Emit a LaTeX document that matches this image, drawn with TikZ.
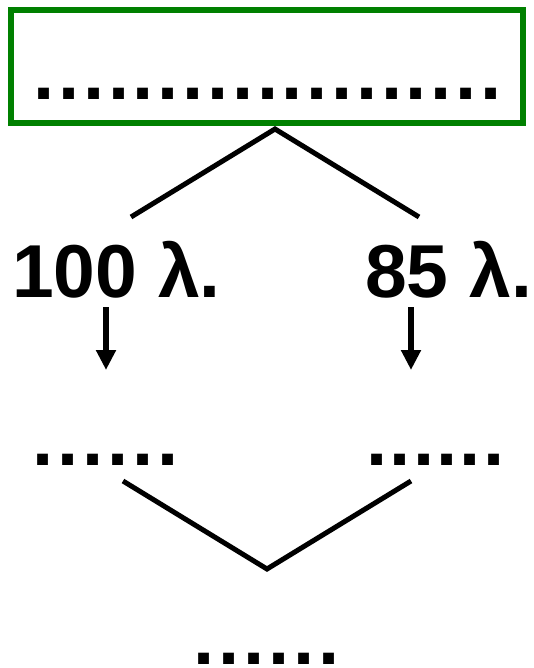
\documentclass[tikz,border=0pt]{standalone}
\usepackage{fontspec}
\setmainfont{Liberation Sans}
\usetikzlibrary{arrows.meta}
\definecolor{boxgreen}{RGB}{0,128,0}
\newcommand\dotrow[2]{\foreach \i in {1,...,#1}{\makebox[#2][c]{.}}}
\tikzset{
  bigtext/.style={inner sep=0pt, font=\fontsize{75}{90}\selectfont\bfseries},
  dotsrow/.style={inner sep=0pt, anchor=base, font=\fontsize{76}{90}\selectfont\bfseries},
  greenbox/.style={draw=boxgreen, line width=6pt, minimum width=512pt, minimum height=113pt, inner sep=0pt},
  link/.style={line width=5pt, line join=miter},
  arr/.style={line width=6pt, -{Triangle[length=20pt,width=19pt]}}
}
\begin{document}
\begin{tikzpicture}[x=1pt,y=-1pt]
\useasboundingbox (0,0) rectangle (533,668);
\node[greenbox] (box) at (267,66.5) {};
\node[dotsrow] (d0) at (267.5,100) {\dotrow{19}{24.8pt}};
\coordinate (apex1) at (275,129);
\coordinate (l1) at (131,217);
\coordinate (r1) at (419,217);
\draw[link] (l1) -- (apex1) -- (r1);
\node[bigtext, anchor=base west] (t1) at (12,297) {100 λ.};
\node[bigtext, anchor=base west] (t2) at (365,297) {85 λ.};
\coordinate (a1s) at (106,307);
\coordinate (a1e) at (106,370);
\coordinate (a2s) at (411,307);
\coordinate (a2e) at (411,370);
\draw[arr] (a1s) -- (a1e);
\draw[arr] (a2s) -- (a2e);
\node[dotsrow] (d1) at (105.7,465) {\dotrow{6}{24.9pt}};
\node[dotsrow] (d2) at (435.5,465) {\dotrow{6}{23.3pt}};
\coordinate (l2) at (123,481);
\coordinate (apex2) at (267,569);
\coordinate (r2) at (411,481);
\draw[link] (l2) -- (apex2) -- (r2);
\node[dotsrow] (d3) at (266.5,664) {\dotrow{6}{24.9pt}};
\end{tikzpicture}
\end{document}
